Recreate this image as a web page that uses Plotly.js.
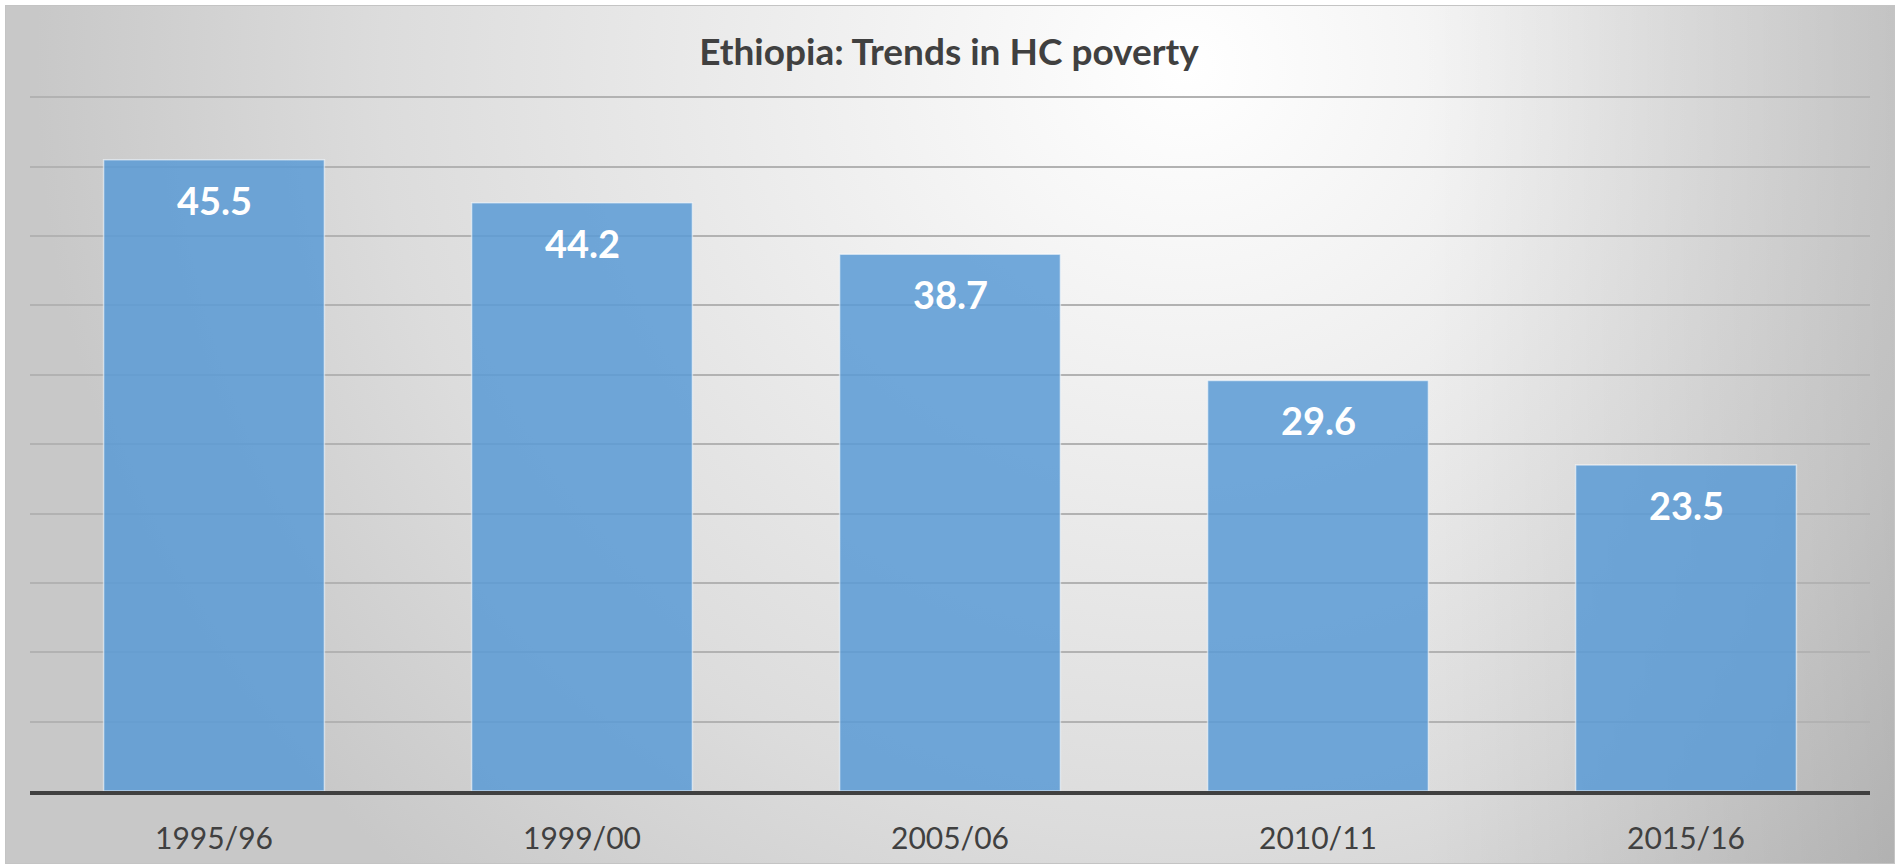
<!DOCTYPE html>
<html>
<head>
<meta charset="utf-8">
<script src="https://cdn.plot.ly/plotly-3.0.1.min.js"></script>
<style>
  html, body { margin: 0; padding: 0; background: #ffffff; }
  #wrap { position: relative; width: 1898px; height: 864px; overflow: hidden; }
  #bg {
    position: absolute; left: 5px; top: 5px; width: 1888px; height: 857px;
    border: 1px solid #c4c4c4;
    background:
      linear-gradient(to right, rgba(0,0,0,0) 75%, rgba(0,0,0,0.13) 100%),
      radial-gradient(ellipse 1150px 1100px at 1180px 60px, #ffffff 0%, #f0f0f0 30%, #dcdcdc 70%, #c8c8c8 100%);
  }
  #chart { position: absolute; left: 0; top: 0; width: 1898px; height: 864px; }
</style>
</head>
<body>
<div id="wrap">
  <div id="bg"></div>
  <div id="chart"></div>
</div>
<script>
const chartTitle = "Ethiopia: Trends in HC poverty";
const categories = ["1995/96", "1999/00", "2005/06", "2010/11", "2015/16"];
// bar heights as drawn in the picture
const barHeights = [45.5, 42.4, 38.7, 29.6, 23.5];
// data labels as printed on the bars
const barLabels = ["45.5", "44.2", "38.7", "29.6", "23.5"];

const trace = {
  type: "bar",
  x: categories,
  y: barHeights,
  marker: {
    color: "rgba(91,155,213,0.86)",
    line: { color: "rgba(255,255,255,0.55)", width: 1.5 }
  },
  hoverinfo: "x+y"
};

const annotations = categories.map((c, i) => ({
  x: c,
  y: barHeights[i],
  xref: "x",
  yref: "y",
  text: barLabels[i],
  showarrow: false,
  yanchor: "middle",
  yshift: -40,
  font: { family: "Lato, sans-serif", size: 38, color: "#ffffff", weight: 700 }
}));

const layout = {
  width: 1898,
  height: 864,
  margin: { l: 30, r: 28, t: 96, b: 73, pad: 0 },
  paper_bgcolor: "rgba(0,0,0,0)",
  plot_bgcolor: "rgba(0,0,0,0)",
  showlegend: false,
  bargap: 0.4,
  title: {
    text: "<b>" + chartTitle + "</b>",
    x: 0.5,
    xanchor: "center",
    y: 1 - 52 / 864,
    yanchor: "middle",
    font: { family: "Lato, sans-serif", size: 37, color: "#404040" }
  },
  xaxis: {
    type: "category",
    showline: true,
    linecolor: "#404040",
    linewidth: 4,
    ticks: "",
    showgrid: false,
    zeroline: false,
    tickfont: { family: "Lato, sans-serif", size: 30, color: "#404040" },
    ticklabelstandoff: 18
  },
  yaxis: {
    range: [0, 50.1],
    tickvals: [5, 10, 15, 20, 25, 30, 35, 40, 45, 50],
    showgrid: true,
    gridcolor: "#b2b2b2",
    gridwidth: 2,
    showticklabels: false,
    zeroline: false,
    showline: false,
    ticks: ""
  },
  annotations: annotations
};

Plotly.newPlot("chart", [trace], layout, { displayModeBar: false, staticPlot: true });
</script>
</body>
</html>
